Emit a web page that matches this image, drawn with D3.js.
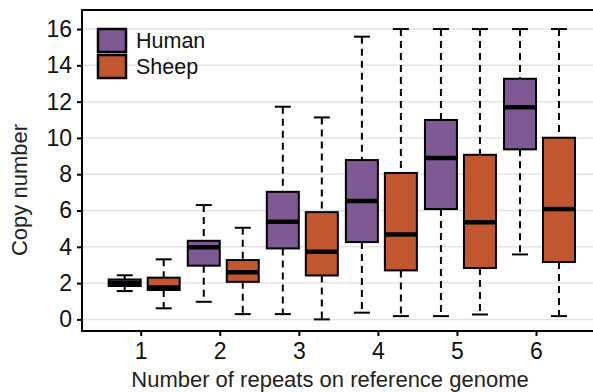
<!DOCTYPE html>
<html>
  <head>
    <meta charset="utf-8">
    <title>Copy number by repeats</title>
    <script src="https://d3js.org/d3.v7.min.js"></script>
    <style>
      body { margin: 0; background: #fff; }
      svg { font-family: "Liberation Sans", Arial, sans-serif; }
    </style>
  </head>
  <body>
    <svg id="chart" width="593" height="392"></svg>
    <script>
      // data
      categories = [1, 2, 3, 4, 5, 6];
      series = ["Human", "Sheep"];
      humanLow = [1.56, 0.97, 0.29, 0.37, 0.18, 3.58];
      humanQ1 = [1.84, 2.96, 3.91, 4.26, 6.08, 9.37];
      humanMed = [2.0, 3.97, 5.38, 6.52, 8.89, 11.69];
      humanQ3 = [2.2, 4.33, 7.03, 8.78, 10.99, 13.26];
      humanHigh = [2.43, 6.3, 11.72, 15.58, 16, 16];
      sheepLow = [0.61, 0.29, 0, 0.18, 0.27, 0.18];
      sheepQ1 = [1.62, 2.07, 2.42, 2.7, 2.83, 3.16];
      sheepMed = [1.76, 2.6, 3.73, 4.68, 5.35, 6.08];
      sheepQ3 = [2.3, 3.27, 5.91, 8.07, 9.07, 10.01];
      sheepHigh = [3.31, 5.05, 11.13, 16, 16, 16];
      yTicks = [0, 2, 4, 6, 8, 10, 12, 14, 16];
      colors = ["#7e5994", "#c1562f"];

      svg = d3.select("#chart");
      x = d3.scaleLinear().domain([1, 6]).range([140.7, 536]);
      y = d3.scaleLinear().domain([-0.64, 17.05]).range([331, 10]);
      boxW = 32;
      // box offsets from the tick, per series
      offsets = [-boxW, 7];

      // panel border (right side falls outside the picture)
      svg.append("rect")
        .attr("x", 82).attr("y", 10)
        .attr("width", 540).attr("height", 321)
        .attr("fill", "none").attr("stroke", "#000").attr("stroke-width", 2);

      // grid
      svg.append("g").selectAll("line")
        .data(yTicks)
        .join("line")
          .attr("x1", 83).attr("x2", 593)
          .attr("y1", d => y(d)).attr("y2", d => y(d))
          .attr("stroke", "#e3e3e3").attr("stroke-width", 1.5);

      // axes
      yAxis = svg.append("g")
        .attr("transform", "translate(82,0)")
        .call(d3.axisLeft(y).tickValues(yTicks).tickFormat(d3.format("d")).tickSize(5).tickPadding(5));
      xAxis = svg.append("g")
        .attr("transform", "translate(0,331)")
        .call(d3.axisBottom(x).tickValues(categories).tickFormat(d3.format("d")).tickSize(5).tickPadding(7));
      [xAxis, yAxis].forEach(function(a) {
        a.select(".domain").remove();
        a.selectAll("line").attr("stroke", "#000").attr("stroke-width", 2);
        a.selectAll("text")
          .attr("fill", "#111")
          .style("font-family", "Liberation Sans, Arial, sans-serif")
          .style("font-size", "23px");
      });
      svg.append("line")
        .attr("x1", 82).attr("x2", 593).attr("y1", 331).attr("y2", 331)
        .attr("stroke", "#000").attr("stroke-width", 2);
      svg.append("line")
        .attr("x1", 82).attr("x2", 82).attr("y1", 10).attr("y2", 331)
        .attr("stroke", "#000").attr("stroke-width", 2);

      // boxes
      stats = [
        { low: humanLow, q1: humanQ1, med: humanMed, q3: humanQ3, high: humanHigh },
        { low: sheepLow, q1: sheepQ1, med: sheepMed, q3: sheepQ3, high: sheepHigh }
      ];
      stats.forEach(function(s, si) {
        rows = categories.map(function(c, i) {
          return { c: c, low: s.low[i], q1: s.q1[i], med: s.med[i], q3: s.q3[i], high: s.high[i] };
        });
        g = svg.append("g").selectAll("g")
          .data(rows)
          .join("g")
            .attr("transform", d => "translate(" + (x(d.c) + offsets[si]) + ",0)");
        // whiskers
        g.append("line")
          .attr("x1", boxW / 2).attr("x2", boxW / 2)
          .attr("y1", d => y(d.high)).attr("y2", d => y(d.q3))
          .attr("stroke", "#000").attr("stroke-width", 2).attr("stroke-dasharray", "7,5");
        g.append("line")
          .attr("x1", boxW / 2).attr("x2", boxW / 2)
          .attr("y1", d => y(d.q1)).attr("y2", d => y(d.low))
          .attr("stroke", "#000").attr("stroke-width", 2).attr("stroke-dasharray", "7,5");
        g.selectAll(".cap")
          .data(d => [d.low, d.high])
          .join("line")
            .attr("x1", boxW / 4).attr("x2", boxW * 3 / 4)
            .attr("y1", d => y(d)).attr("y2", d => y(d))
            .attr("stroke", "#000").attr("stroke-width", 2);
        g.append("rect")
          .attr("x", 0).attr("width", boxW)
          .attr("y", d => y(d.q3))
          .attr("height", d => y(d.q1) - y(d.q3))
          .attr("fill", colors[si]).attr("stroke", "#000").attr("stroke-width", 2);
        g.append("line")
          .attr("x1", 0).attr("x2", boxW)
          .attr("y1", d => y(d.med)).attr("y2", d => y(d.med))
          .attr("stroke", "#000").attr("stroke-width", 4.5);
      });

      // legend
      legend = svg.append("g").selectAll("g")
        .data(series)
        .join("g")
          .attr("transform", (d, i) => "translate(98," + (29 + i * 26) + ")");
      legend.append("rect")
        .attr("width", 28).attr("height", 23)
        .attr("fill", (d, i) => colors[i])
        .attr("stroke", "#000").attr("stroke-width", 2.5);
      legend.append("text")
        .attr("x", 38).attr("y", 18.5)
        .attr("fill", "#111")
        .style("font-size", "21.5px")
        .text(d => d);

      // axis titles
      svg.append("text")
        .attr("x", 330).attr("y", 386.5)
        .attr("text-anchor", "middle")
        .attr("fill", "#222")
        .style("font-size", "22px")
        .text("Number of repeats on reference genome");
      svg.append("text")
        .attr("transform", "translate(27,190) rotate(-90)")
        .attr("text-anchor", "middle")
        .attr("fill", "#222")
        .style("font-size", "22px")
        .text("Copy number");
    </script>
  </body>
</html>
